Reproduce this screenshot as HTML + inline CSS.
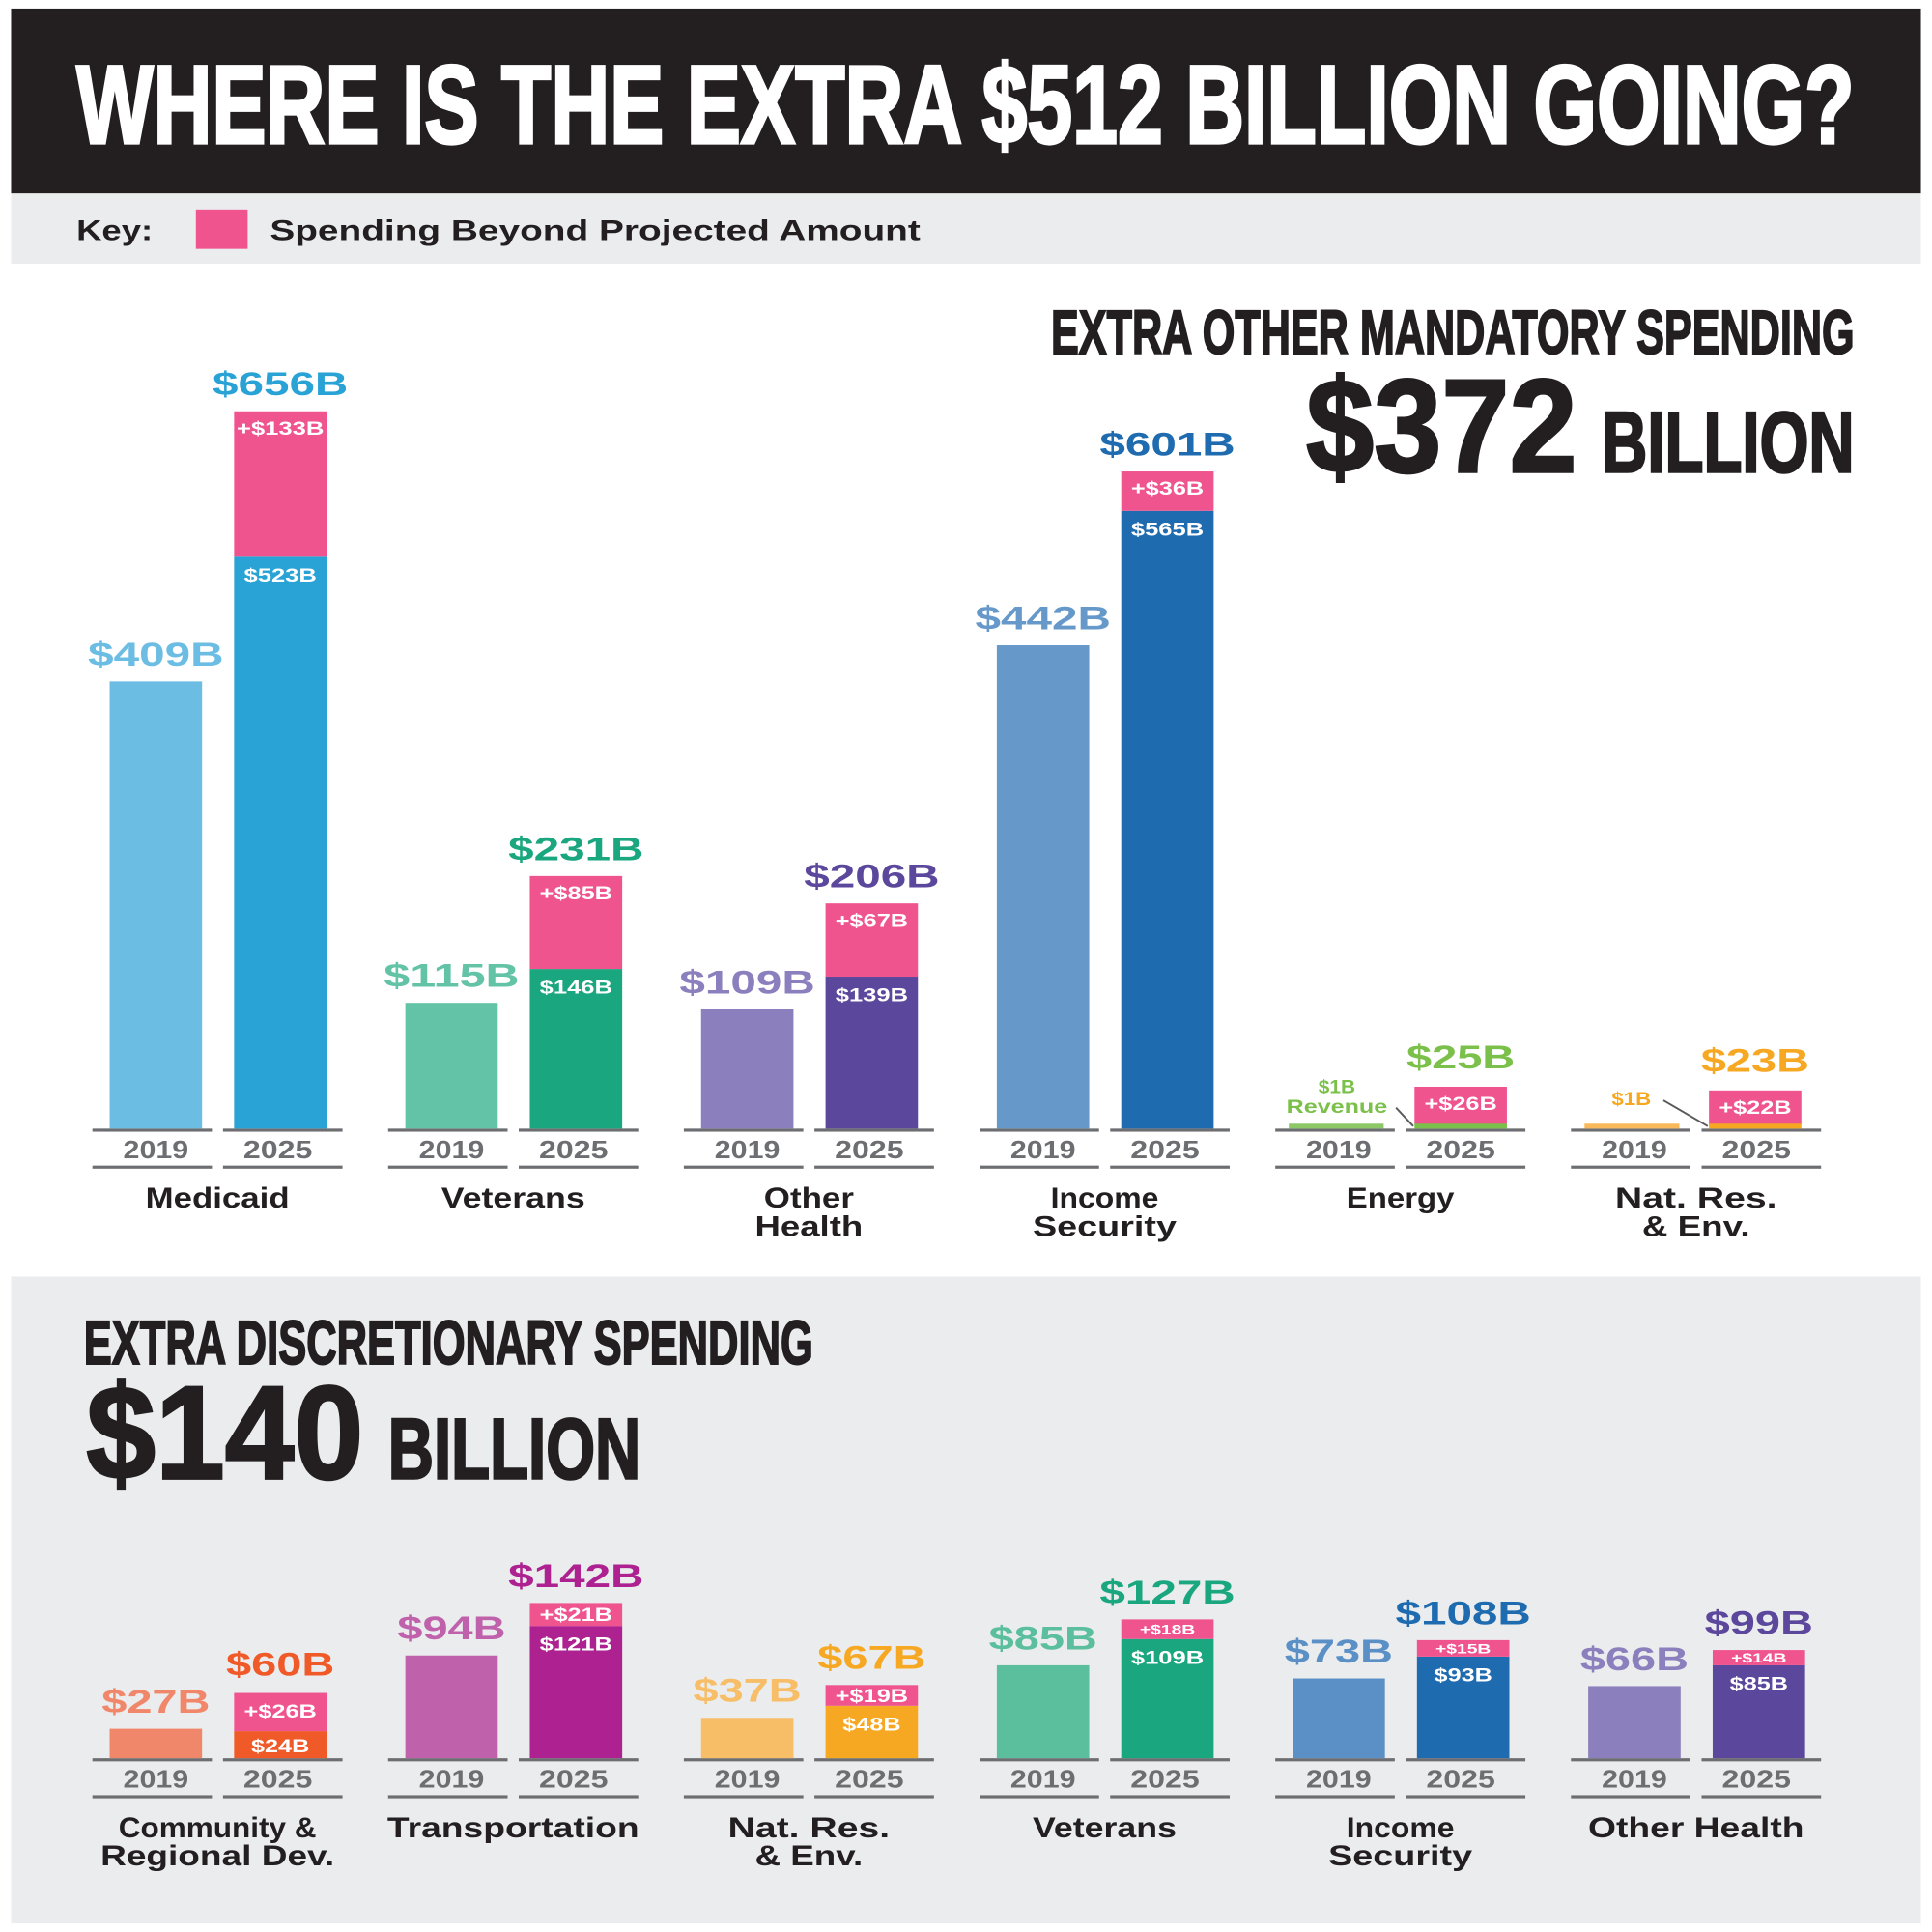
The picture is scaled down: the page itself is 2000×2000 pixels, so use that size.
<!DOCTYPE html>
<html><head><meta charset="utf-8"><style>
html,body{margin:0;padding:0;background:#fff;width:2000px;height:2000px;overflow:hidden}
svg{display:block}
text{font-family:"Liberation Sans",sans-serif;font-weight:bold}
</style></head><body>
<svg id="s" width="2000" height="2000" viewBox="0 0 1568 1568" xmlns="http://www.w3.org/2000/svg">
<rect x="0" y="0" width="1568" height="1568" fill="#fff"/>
<rect x="9" y="7" width="1550" height="150" fill="#231f20"/>
<text x="62" y="116" font-size="90" fill="#fff" stroke="#fff" stroke-width="2.5" textLength="1443" lengthAdjust="spacingAndGlyphs">WHERE IS THE EXTRA $512 BILLION GOING?</text>
<rect x="9" y="157" width="1550" height="57" fill="#ebeced"/>
<text x="62" y="195" font-size="23" fill="#231f20" textLength="62" lengthAdjust="spacingAndGlyphs">Key:</text>
<rect x="159" y="170" width="42" height="32" fill="#f0548f"/>
<text x="219" y="195" font-size="23" fill="#231f20" textLength="528" lengthAdjust="spacingAndGlyphs">Spending Beyond Projected Amount</text>
<text x="853" y="287" font-size="50" fill="#231f20" stroke="#231f20" stroke-width="1.5" textLength="652" lengthAdjust="spacingAndGlyphs">EXTRA OTHER MANDATORY SPENDING</text>
<text x="1060" y="383" font-size="108" fill="#231f20" stroke="#231f20" stroke-width="2" textLength="220" lengthAdjust="spacingAndGlyphs">$372</text>
<text x="1300" y="383" font-size="70" fill="#231f20" stroke="#231f20" stroke-width="2" textLength="205" lengthAdjust="spacingAndGlyphs">BILLION</text>
<rect x="9" y="1036" width="1550" height="525" fill="#ebeced"/>
<text x="68" y="1107" font-size="50" fill="#231f20" stroke="#231f20" stroke-width="1.5" textLength="592" lengthAdjust="spacingAndGlyphs">EXTRA DISCRETIONARY SPENDING</text>
<text x="70" y="1200" font-size="108" fill="#231f20" stroke="#231f20" stroke-width="2" textLength="225" lengthAdjust="spacingAndGlyphs">$140</text>
<text x="315" y="1200" font-size="70" fill="#231f20" stroke="#231f20" stroke-width="2" textLength="205" lengthAdjust="spacingAndGlyphs">BILLION</text>
<g id="g"></g>
</svg>
<script>
var g=document.getElementById('g'),h='',S=0.8875,P='#f0548f';
function R(x,y,w,hh,c){h+='<rect x="'+x+'" y="'+y+'" width="'+w+'" height="'+hh+'" fill="'+c+'"/>';}
function T(x,y,s,c,t,len){h+='<text x="'+x+'" y="'+y+'" font-size="'+s+'" fill="'+c+'" text-anchor="middle"'+(len?' textLength="'+len+'" lengthAdjust="spacingAndGlyphs"':'')+'>'+t+'</text>';}
function V(x,y,c,t){T(x,y,27,c,t,t.length*22);}
function W(x,y,s,t){var n=t.replace('&amp;','&').length;T(x,y,s,'#fff',t,n*(s==15?11.8:9));}
function group(x0,B,d){
  var c1=x0+48.5,c2=x0+152.5;
  R(x0,B,97,2.5,'#6d6e71');R(x0+106,B,97,2.5,'#6d6e71');
  R(x0,B+30,97,2.5,'#6d6e71');R(x0+106,B+30,97,2.5,'#6d6e71');
  T(c1+3,B+24,20,'#6d6e71','2019',53);T(c2-2,B+24,20,'#6d6e71','2025',56);
  var cx=x0+101.5;
  d.cat.forEach(function(l,i){var n=l.replace('&amp;','&').length;T(cx,B+64+i*23,23,'#231f20',l,n*14.6);});
  if(d.v1!=null){var t1=B-d.v1*S;R(x0+14,t1,75,d.v1*S,d.c1);V(c1+3,t1-13,d.c1,'$'+d.v1+'B');}
  if(d.v2!=null){
    var t2=B-d.v2*S,tb=B-d.b*S;
    R(x0+115,tb,75,d.b*S,d.c2);R(x0+115,t2,75,tb-t2,P);
    V(c2,t2-13,d.c2,'$'+d.v2+'B');
    var ph=tb-t2,ps=ph<16?11:15;
    W(c2,t2+Math.min(19,ph/2+ps*0.36),ps,'+$'+d.p+'B');
    if(d.lb)W(c2,tb+20,15,'$'+d.lb+'B');
  }
}
var TB=916;
var top_=[
 {cat:['Medicaid'],v1:409,c1:'#6bbde3',v2:656,b:523,lb:523,p:133,c2:'#29a3d6'},
 {cat:['Veterans'],v1:115,c1:'#63c3a6',v2:231,b:146,lb:146,p:85,c2:'#1aa77f'},
 {cat:['Other','Health'],v1:109,c1:'#8b80bd',v2:206,b:139,lb:139,p:67,c2:'#5b479c'},
 {cat:['Income','Security'],v1:442,c1:'#6699c9',v2:601,b:565,lb:565,p:36,c2:'#1f6bb0'}
];
top_.forEach(function(d,i){group(75+240*i,TB,d);});
(function(){var x0=1035;group(x0,TB,{cat:['Energy']});
 R(x0+11,912,77,4,'#8cc867');R(x0+113,882,75,31,P);R(x0+113,912,75,4,'#7bc04a');
 W(x0+150.5,901,15,'+$26B');V(x0+150.5,867,'#7bc04a','$25B');
 T(x0+50,887,15,'#7bc04a','$1B',30);T(x0+50,903,15,'#7bc04a','Revenue',82);
 h+='<line x1="1133" y1="899" x2="1147" y2="914" stroke="#58595b" stroke-width="1.5"/>';})();
(function(){var x0=1275;group(x0,TB,{cat:['Nat. Res.','&amp; Env.']});
 R(x0+11,912,77,4,'#f9b95a');R(x0+112,885,75,28,P);R(x0+112,912,75,4,'#f7a823');
 W(x0+149.5,904,15,'+$22B');V(x0+149.5,870,'#f7a823','$23B');
 T(x0+49,897,15,'#f7a823','$1B',32);
 h+='<line x1="1350" y1="893" x2="1386" y2="914" stroke="#58595b" stroke-width="1.5"/>';})();
var BB=1427;
var bot=[
 {cat:['Community &amp;','Regional Dev.'],v1:27,c1:'#f1876a',v2:60,b:24,lb:24,p:26,c2:'#f05a28'},
 {cat:['Transportation'],v1:94,c1:'#c061ac',v2:142,b:121,lb:121,p:21,c2:'#ad2190'},
 {cat:['Nat. Res.','&amp; Env.'],v1:37,c1:'#f7bd67',v2:67,b:48,lb:48,p:19,c2:'#f7a823'},
 {cat:['Veterans'],v1:85,c1:'#5bbf9d',v2:127,b:109,lb:109,p:18,c2:'#1aa77f'},
 {cat:['Income','Security'],v1:73,c1:'#5b90c6',v2:108,b:93,lb:93,p:15,c2:'#1f6bb0'},
 {cat:['Other Health'],v1:66,c1:'#8b7fbd',v2:99,b:85,lb:85,p:14,c2:'#5b479c'}
];
bot.forEach(function(d,i){
 if(i==0){
  var x0=75;group(x0,BB,{cat:d.cat,v1:d.v1,c1:d.c1});
  R(x0+115,1405,75,22,d.c2);R(x0+115,1374,75,31,P);
  V(x0+152.5,1360,d.c2,'$60B');W(x0+152.5,1394,15,'+$26B');W(x0+152.5,1422,15,'$24B');
 } else group(75+240*i,BB,d);
});
g.innerHTML=h;
</script>
</body></html>
